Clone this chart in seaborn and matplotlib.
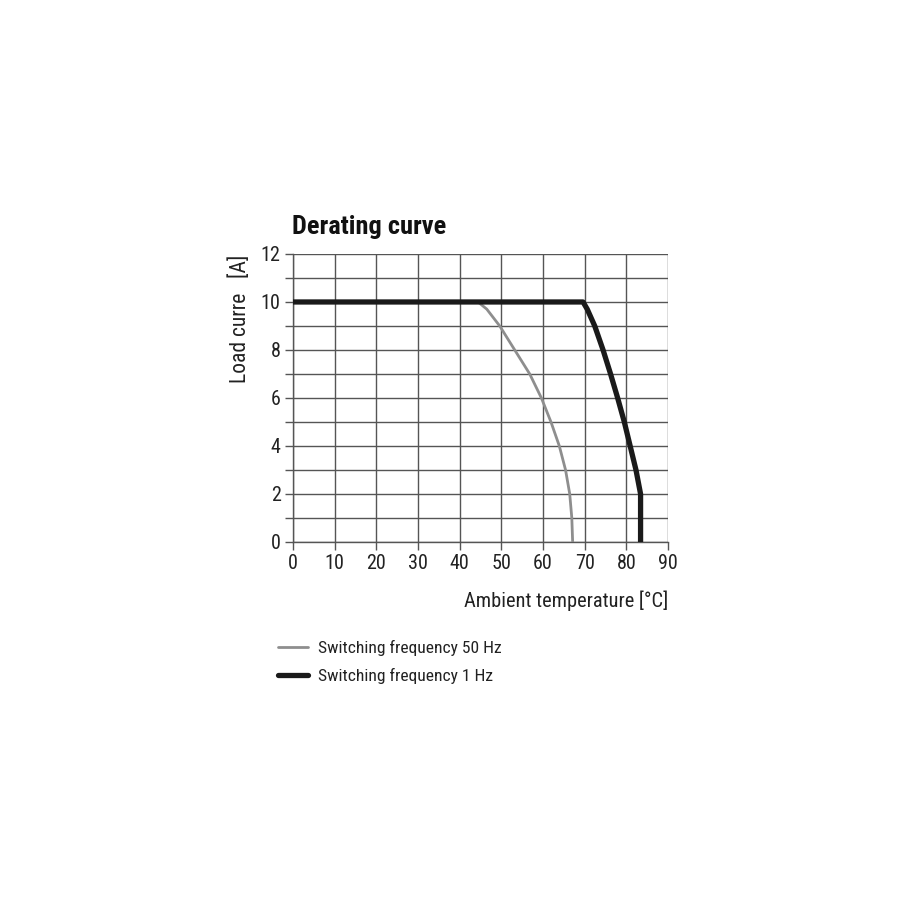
import matplotlib
matplotlib.use("Agg")
import matplotlib.pyplot as plt
import seaborn as sns
import pandas as pd
from matplotlib import font_manager
from matplotlib.ticker import MultipleLocator

# Curve values
temp_50hz = [0, 44.4, 46.5, 49.6, 53.2, 56.8, 59.6, 61.9, 63.9, 65.4, 66.4, 66.9, 67.1]
load_50hz = [10, 10, 9.7, 9.0, 8.0, 7.0, 6.0, 5.0, 4.0, 3.0, 2.0, 1.0, 0.0]

temp_1hz = [0, 69.6, 70.6, 72.4, 74.4, 76.2, 77.9, 79.5, 80.9, 82.3, 83.4, 83.4]
load_1hz = [10, 10, 9.7, 9.0, 8.0, 7.0, 6.0, 5.0, 4.0, 3.0, 2.0, 0.0]

x_ticks = [0, 10, 20, 30, 40, 50, 60, 70, 80, 90]
y_ticks = [0, 2, 4, 6, 8, 10, 12]

label_50hz = "Switching frequency 50 Hz"
label_1hz = "Switching frequency 1 Hz"

df = pd.concat([
    pd.DataFrame({"temp": temp_50hz, "load": load_50hz, "curve": label_50hz}),
    pd.DataFrame({"temp": temp_1hz, "load": load_1hz, "curve": label_1hz}),
])

sns.set_theme(style="white")

# look for a narrow face, the datasheet uses a condensed sans
names = sorted({f.name for f in font_manager.fontManager.ttflist})
narrow = None
for cand in ["Roboto Condensed", "Liberation Sans Narrow", "Open Sans Condensed",
             "Noto Sans Condensed", "DejaVu Sans Condensed"]:
    if cand in names:
        narrow = cand
        break
if narrow is None:
    for n in names:
        if "Narrow" in n or "Condensed" in n:
            narrow = n
            break
plt.rcParams['font.family'] = [narrow or 'Roboto', 'DejaVu Sans']

fig = plt.figure(figsize=(9, 9), dpi=100)
ax = fig.add_axes([0.3256, 0.3978, 0.4167, 0.32])

grid_col = "#555555"
sns.lineplot(data=df[df["curve"] == label_50hz], x="temp", y="load", sort=False,
             estimator=None, color="#8e8e8e", linewidth=2.0, ax=ax, zorder=3)
sns.lineplot(data=df[df["curve"] == label_1hz], x="temp", y="load", sort=False,
             estimator=None, color="#1a1a1a", linewidth=3.8, ax=ax, zorder=4)

ax.set_xlim(0, 90)
ax.set_ylim(0, 12)
ax.set_xticks(x_ticks)
ax.set_yticks(y_ticks)
ax.yaxis.set_minor_locator(MultipleLocator(1))
ax.grid(which="both", color=grid_col, linewidth=1.0)
ax.set_axisbelow(True)
for s in ["top", "right"]:
    ax.spines[s].set_visible(False)
for s in ["left", "bottom"]:
    ax.spines[s].set_color(grid_col)
    ax.spines[s].set_linewidth(1.0)

ax.tick_params(axis="both", which="major", length=6, width=1.0, color=grid_col,
               labelsize=14.5, labelcolor="#222222", pad=3, left=True, bottom=True)
ax.tick_params(axis="y", which="minor", length=6, width=1.0, color=grid_col, left=True)

ax.set_xlabel("")
ax.set_ylabel("")
fig.text(0.742, 0.332, "Ambient temperature [°C]", ha="right", va="center",
         fontsize=14.7, color="#222222")
fig.text(0.267, 0.6456, "Load curre   [A]", ha="center", va="center",
         rotation=90, fontsize=15.5, color="#222222")
fig.text(0.324, 0.748, "Derating curve", ha="left", va="center",
         fontsize=19, fontweight="bold", color="#111111")

# legend placed below the plot
leg_handles = [
    plt.Line2D([], [], color="#8e8e8e", linewidth=2.0),
    plt.Line2D([], [], color="#1a1a1a", linewidth=3.8),
]
fig.legend(leg_handles, [label_50hz, label_1hz], loc="upper left",
           bbox_to_anchor=(0.291, 0.306), frameon=False,
           prop={"size": 12.6},
           handlelength=1.75, handletextpad=0.55, labelspacing=0.65,
           labelcolor="#222222")

fig.savefig("out.png", dpi=100, facecolor="white")
